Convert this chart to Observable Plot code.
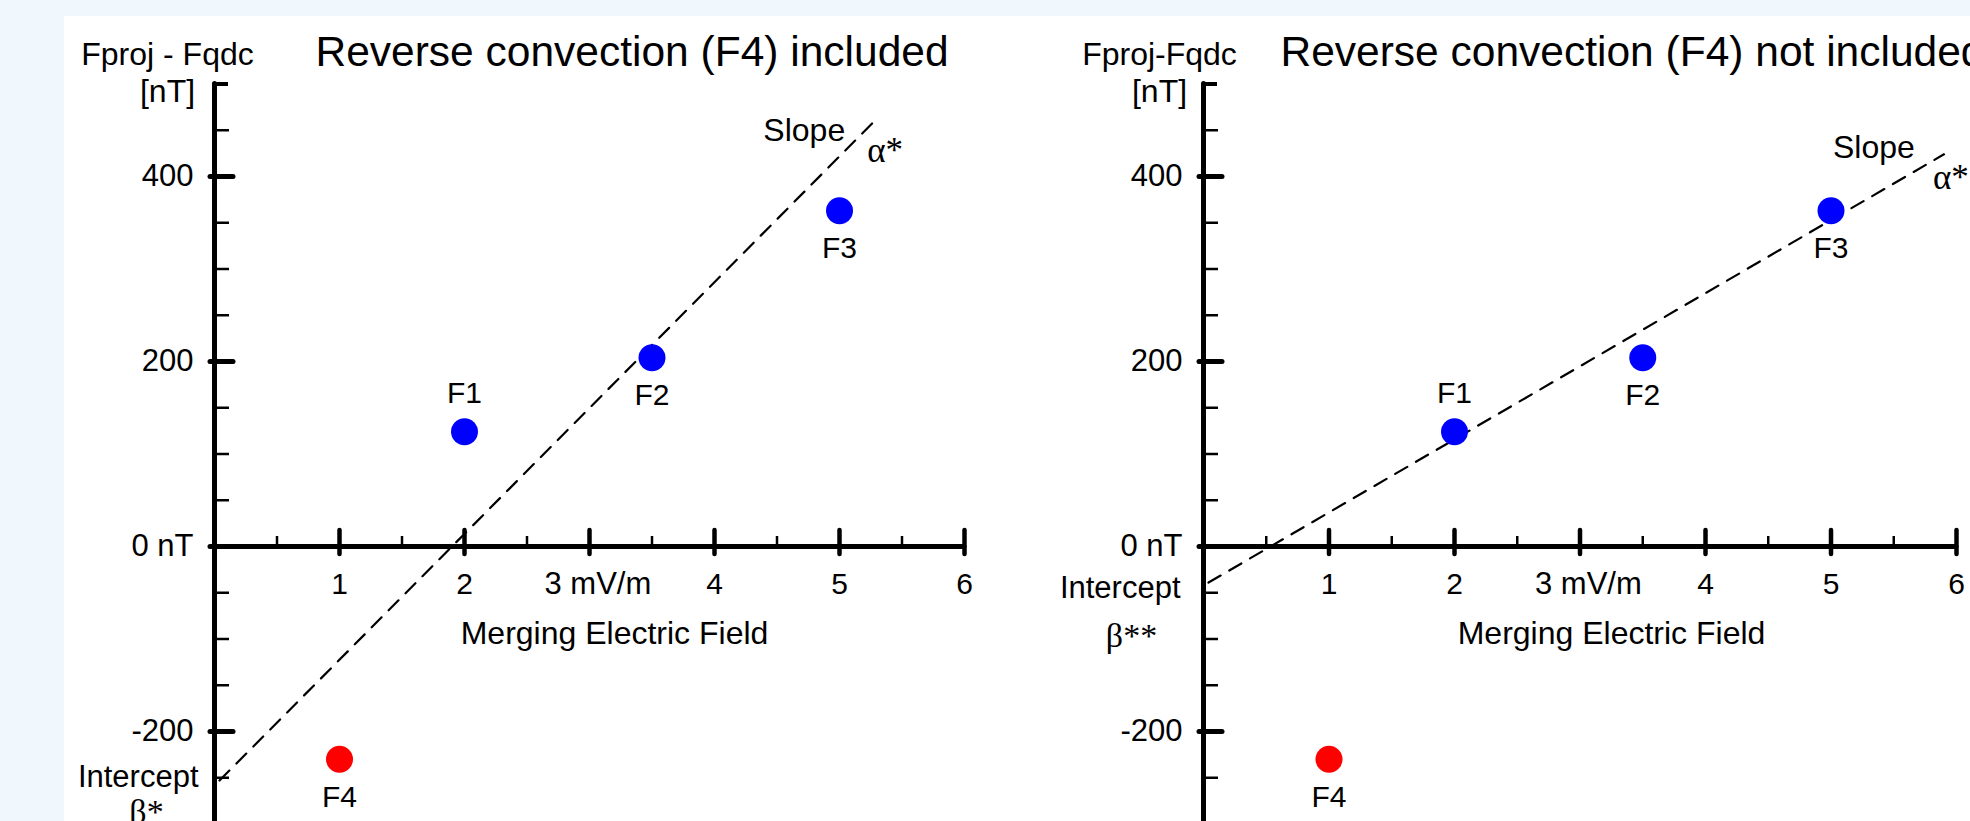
<!DOCTYPE html>
<html><head><meta charset="utf-8">
<script src="https://cdn.jsdelivr.net/npm/d3@7"></script>
<script src="https://cdn.jsdelivr.net/npm/@observablehq/plot@0.6"></script>
<style>
html,body{margin:0;padding:0;overflow:hidden;background:#f1f8fd;}
#page{position:relative;width:1970px;height:821px;background:#f1f8fd;overflow:hidden;}
#paper{position:absolute;left:64px;top:16px;right:0;bottom:0;background:#ffffff;}
#page svg{position:absolute;left:0;top:0;}
</style></head><body><div id="page"><div id="paper"></div></div>
<script>
// ---- data ----
const names    = ["F1", "F2", "F3", "F4"];
const eField   = [2, 3.5, 5, 1];            // mV/m
const deltaF   = [124, 204, 363, -230];     // nT
const dotColor = ["#0000ff", "#0000ff", "#0000ff", "#ff0000"];
const labelAbove = ["F1"];

const xMajorTicks  = [1, 2, 4, 5, 6];
const xTickLabels  = ["1", "2", "4", "5", "6"];
const xUnitTick    = [3];
const xUnitLabel   = "3 mV/m";
const xMinorTicks  = [0.5, 1.5, 2.5, 3.5, 4.5, 5.5];
const yMajorTicks  = [400, 200, 0, -200];
const yTickLabels  = ["400", "200", "0 nT", "-200"];
const yMinorTicks  = [450, 350, 300, 250, 150, 100, 50, -50, -100, -150, -250];
const yTopTick     = [500];

// fitted lines (end points)
const fitIncludedX = [0.04, 5.31];
const fitIncludedY = [-253, 464];
const fitExcludedX = [0.04, 5.9];
const fitExcludedY = [-39, 424];

const titles = ["Reverse convection (F4) included", "Reverse convection (F4) not included"];
const yLabels = ["Fproj - Fqdc", "Fproj-Fqdc"];
const unitLabel = "[nT]";
const xLabel = "Merging Electric Field";
const slopeSyms = ["\u03b1*", "\u03b1*"];
const interceptSyms = ["\u03b2*", "\u03b2**"];

const SANS = "'Liberation Sans', Arial, sans-serif";
const SERIF = "'Liberation Serif', 'Times New Roman', serif";

function panel(i, cfg) {
  const pts = names.map((n, k) => ({name: n, x: eField[k], y: deltaF[k], color: dotColor[k]}));
  const fx = i === 0 ? fitIncludedX : fitExcludedX;
  const fy = i === 0 ? fitIncludedY : fitExcludedY;
  const fit = fx.map((x, k) => ({x, y: fy[k]}));
  const yTop = 83.5, yBot = 823.5;
  const U = 800 / (yBot - yTop);            // y units per pixel
  const XU = 6 / (cfg.x1 - cfg.x0);         // x units per pixel
  const allX = xMajorTicks.concat(xUnitTick);
  return Plot.plot({
    width: 1970, height: 821,
    marginTop: 0, marginRight: 0, marginBottom: 0, marginLeft: 0,
    x: {domain: [0, 6], range: [cfg.x0, cfg.x1], axis: null},
    y: {domain: [-300, 500], range: [yBot, yTop], axis: null},
    style: {background: "transparent", fontFamily: SANS, color: "#000", overflow: "hidden"},
    marks: [
      // axes
      Plot.ruleY([0], {x1: () => 0, x2: () => 6, stroke: "#000", strokeWidth: 5, strokeLinecap: "round"}),
      Plot.ruleX([0], {y1: () => -320, y2: () => 500, stroke: "#000", strokeWidth: 5, strokeLinecap: "round"}),
      Plot.ruleY(yTopTick, {x1: () => 0, x2: () => 14 * XU, stroke: "#000", strokeWidth: 4}),
      Plot.ruleY(yMajorTicks, {x1: () => -4 * XU, x2: () => 19 * XU, stroke: "#000", strokeWidth: 5, strokeLinecap: "round"}),
      Plot.ruleY(yMinorTicks, {x1: () => 0, x2: () => 15 * XU, stroke: "#000", strokeWidth: 2.5}),
      Plot.ruleX(allX, {y1: () => -8 * U, y2: () => 16 * U, stroke: "#000", strokeWidth: 4.5, strokeLinecap: "round"}),
      Plot.ruleX(xMinorTicks, {y1: () => 0, y2: () => 10 * U, stroke: "#000", strokeWidth: 2.5}),
      // tick labels
      Plot.text(yMajorTicks, {x: () => 0, y: d => d, text: (d, k) => yTickLabels[k], textAnchor: "end", dx: -21, fontSize: 31}),
      Plot.text(xMajorTicks, {x: d => d, y: () => 0, text: (d, k) => xTickLabels[k], dy: 38, fontSize: 30}),
      Plot.text(xUnitTick, {x: d => d, y: () => 0, text: () => xUnitLabel, textAnchor: "start", dx: -45, dy: 38, fontSize: 31}),
      // titles & axis labels
      Plot.text([titles[i]], {frameAnchor: "top-left", dx: cfg.titleX, dy: 65, textAnchor: "start", lineAnchor: "bottom", fontSize: 42.5}),
      Plot.text([yLabels[i]], {frameAnchor: "top-left", dx: cfg.labelX, dy: 64, textAnchor: "middle", lineAnchor: "bottom", fontSize: 32}),
      Plot.text([unitLabel], {frameAnchor: "top-left", dx: cfg.labelX, dy: 101, textAnchor: "middle", lineAnchor: "bottom", fontSize: 32}),
      Plot.text([xLabel], {frameAnchor: "top-left", dx: cfg.xLabelX, dy: 633, textAnchor: "middle", lineAnchor: "middle", fontSize: 32}),
      // fitted line
      Plot.line(fit, {x: "x", y: "y", stroke: "#000", strokeWidth: 2.2, strokeDasharray: "14,10"}),
      Plot.text([fit[1]], {x: "x", y: "y", text: () => "Slope", dx: cfg.slopeDx, dy: cfg.slopeDy, fontSize: 32}),
      Plot.text([fit[1]], {x: "x", y: "y", text: () => slopeSyms[i], textAnchor: "start", dx: -11, dy: cfg.alphaDy, fontSize: 35, fontFamily: SERIF}),
      Plot.text([fit[0]], {x: () => 0, y: "y", text: () => "Intercept", textAnchor: "end", dx: cfg.intDx, dy: cfg.intDy, fontSize: 31}),
      Plot.text([fit[0]], {x: () => 0, y: "y", text: () => interceptSyms[i], dx: cfg.betaDx, dy: cfg.betaDy, fontSize: 34, fontFamily: SERIF}),
      // points
      Plot.dot(pts, {x: "x", y: "y", r: 13.5, fill: "color", stroke: null}),
      Plot.text(pts.filter(d => labelAbove.includes(d.name)), {x: "x", y: "y", text: "name", dy: -38, fontSize: 30}),
      Plot.text(pts.filter(d => !labelAbove.includes(d.name)), {x: "x", y: "y", text: "name", dy: 38, fontSize: 30})
    ]
  });
}

const page = document.getElementById("page");
page.appendChild(panel(0, {x0: 214, x1: 964, titleX: 315, labelX: 167, xLabelX: 614,
  slopeDx: -74, slopeDy: 13, alphaDy: 33, intDx: -16, intDy: -3, betaDx: -68, betaDy: 32}));
page.appendChild(panel(1, {x0: 1203, x1: 1956, titleX: 1280, labelX: 1159, xLabelX: 1611,
  slopeDx: -70, slopeDy: -7, alphaDy: 23, intDx: -23, intDy: 6, betaDx: -72, betaDy: 54}));
</script>
</body></html>
